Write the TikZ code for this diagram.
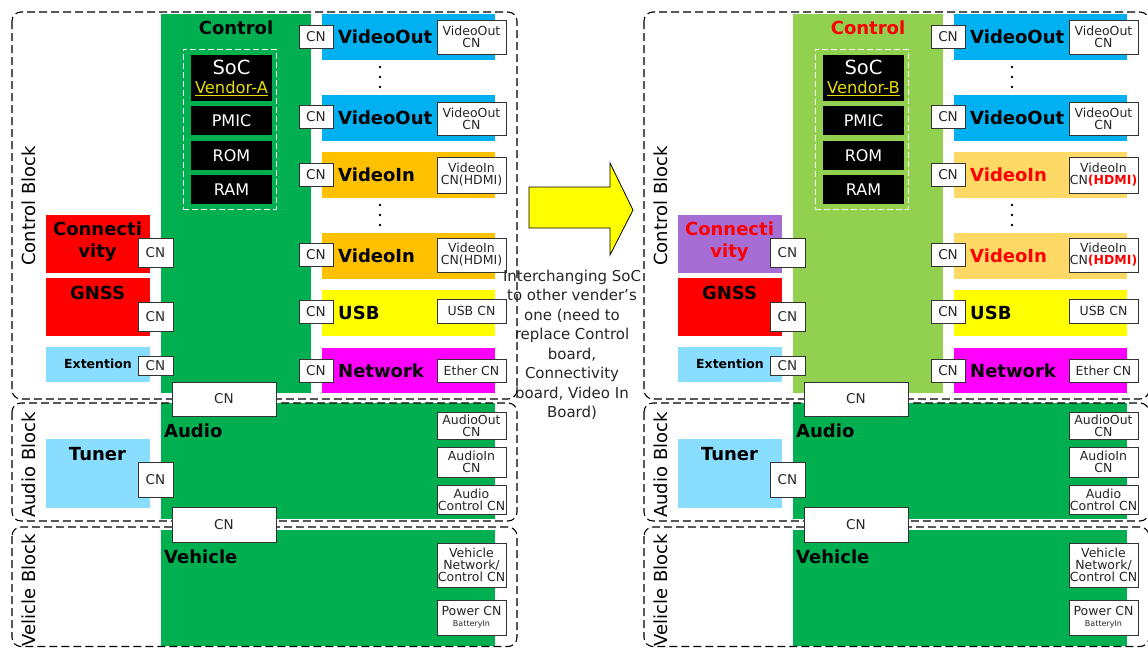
\documentclass[tikz,border=0pt]{standalone}
\usepackage{fontspec}
\setmainfont{DejaVu Sans}
\definecolor{cgreen}{RGB}{0,176,80}
\definecolor{lgreen}{RGB}{146,208,80}
\definecolor{cblue}{RGB}{0,176,240}
\definecolor{corange}{RGB}{255,192,0}
\definecolor{lorange}{RGB}{255,217,102}
\definecolor{cyellow}{RGB}{255,255,0}
\definecolor{cmag}{RGB}{255,0,255}
\definecolor{cred}{RGB}{255,0,0}
\definecolor{lblue}{RGB}{137,221,255}
\definecolor{cpurple}{RGB}{166,109,212}
\definecolor{vendcol}{RGB}{230,220,0}
\tikzset{
  rect/.style={inner sep=0pt, outer sep=0pt, draw=none},
  cn/.style={draw=black!80, fill=white, line width=0.8pt, inner sep=0pt, outer sep=0pt,
    align=center, text=black!85, font=\fontsize{13.5}{13.5}\selectfont},
  cnr/.style={cn, font=\fontsize{12.5}{12}\selectfont},
  blk/.style={draw=black, line width=1.1pt, dash pattern=on 8pt off 4pt, rounded corners=9pt},
  blabel/.style={rotate=90, font=\fontsize{18}{18}\selectfont},
  ttl/.style={font=\fontsize{18}{20}\selectfont\bfseries, inner sep=0pt},
  chip/.style={rect, fill=black, text=white, font=\fontsize{16}{16}\selectfont},
  dotm/.style={fill=black}
}
\newcommand\cnbox[7][cn]{\node[#1, minimum width=#5pt, minimum height=#6pt] (#2) at (#3,#4) {#7};}
\newcommand\drawpanel[3]{%
\begin{scope}[xshift=#2pt]
 % boards
 \node[rect, fill=pCtrl, minimum width=150pt, minimum height=379pt] (#1ctrl) at (236,203.5) {};
 \node[rect, fill=cgreen, minimum width=334pt, minimum height=116pt] (#1audio) at (328,461) {};
 \node[rect, fill=cgreen, minimum width=334pt, minimum height=116pt] (#1veh) at (328,588) {};
 \node[rect, fill=cblue, minimum width=173pt, minimum height=46pt] (#1vo1) at (408.5,37) {};
 \node[rect, fill=cblue, minimum width=173pt, minimum height=46pt] (#1vo2) at (408.5,118) {};
 \node[rect, fill=pVI, minimum width=173pt, minimum height=46pt] (#1vi1) at (408.5,175) {};
 \node[rect, fill=pVI, minimum width=173pt, minimum height=46pt] (#1vi2) at (408.5,256) {};
 \node[rect, fill=cyellow, minimum width=173pt, minimum height=46pt] (#1usb) at (408.5,313) {};
 \node[rect, fill=cmag, minimum width=173pt, minimum height=45pt] (#1net) at (408.5,370.5) {};
 \node[rect, fill=pConn, minimum width=104pt, minimum height=58pt] (#1conn) at (98,244) {};
 \node[rect, fill=cred, minimum width=104pt, minimum height=58pt] (#1gnss) at (98,307) {};
 \node[rect, fill=lblue, minimum width=104pt, minimum height=35pt] (#1ext) at (98,364.5) {};
 \node[rect, fill=lblue, minimum width=104pt, minimum height=69pt] (#1tuner) at (98,473.5) {};
 % SoC group
 \node[rect, draw=white, line width=1pt, dash pattern=on 6pt off 3pt, minimum width=93pt, minimum height=160pt] (#1socgrp) at (229.5,129) {};
 \node[chip, minimum width=81pt, minimum height=46pt] (#1soc) at (231.5,78) {};
 \node[text=white, font=\fontsize{19.5}{19.5}\selectfont, inner sep=0pt] (#1soct) at (231.5,67) {SoC};
 \node[text=vendcol, font=\fontsize{16.3}{16}\selectfont, inner sep=0pt] (#1vend) at (231.5,88) {\underline{Vendor-#3}};
 \node[chip, minimum width=81pt, minimum height=29pt] (#1pmic) at (231.5,120.5) {PMIC};
 \node[chip, minimum width=81pt, minimum height=29pt] (#1rom) at (231.5,155.5) {ROM};
 \node[chip, minimum width=81pt, minimum height=29pt] (#1ram) at (231.5,189.5) {RAM};
 % blocks
 \draw[blk] (12,12) rectangle (517,399);
 \draw[blk] (12,403) rectangle (517,521);
 \draw[blk] (12,527) rectangle (517,646.5);
 \node[blabel] (#1cb) at (29,206) {Control Block};
 \node[blabel] (#1ab) at (29,465) {Audio Block};
 \node[blabel] (#1vb) at (29,590) {Velicle Block};
 % titles
 \node[ttl, text=pCtrlT] (#1ctrlt) at (236,28) {Control};
 \node[ttl, anchor=west] (#1vo1t) at (338,37) {VideoOut};
 \node[ttl, anchor=west] (#1vo2t) at (338,118) {VideoOut};
 \node[ttl, anchor=west, text=pVIT] (#1vi1t) at (338,175) {VideoIn};
 \node[ttl, anchor=west, text=pVIT] (#1vi2t) at (338,256) {VideoIn};
 \node[ttl, anchor=west] (#1usbt) at (338,313) {USB};
 \node[ttl, anchor=west] (#1nett) at (338,370.5) {Network};
 \node[ttl, align=center, text=pConnT, font=\fontsize{18}{22}\selectfont\bfseries] (#1connt) at (97.5,242) {Connecti\\vity};
 \node[ttl] (#1gnsst) at (97.5,293) {GNSS};
 \node[ttl, font=\fontsize{12.5}{13}\selectfont\bfseries] (#1extt) at (98,364) {Extention};
 \node[ttl] (#1tunert) at (97.5,454) {Tuner};
 \node[ttl, anchor=west] (#1audiot) at (164,431) {Audio};
 \node[ttl, anchor=west] (#1veht) at (164,557) {Vehicle};
 % dots
 \foreach \yy in {67,77,87,205,215,225} {\fill[dotm] (380,\yy) circle (1.4pt);}
 % left CN
 \cnbox{#1cvo1}{316}{37}{34}{23}{CN}
 \cnbox{#1cvo2}{316}{117}{34}{23}{CN}
 \cnbox{#1cvi1}{316}{174.5}{34}{23}{CN}
 \cnbox{#1cvi2}{316}{255}{34}{23}{CN}
 \cnbox{#1cusb}{316}{311.5}{34}{23}{CN}
 \cnbox{#1cnet}{316}{370.5}{34}{23}{CN}
 % right CN
 \cnbox[cnr]{#1rvo1}{471.5}{37}{69}{34}{VideoOut\\CN}
 \cnbox[cnr]{#1rvo2}{471.5}{118.5}{69}{33}{VideoOut\\CN}
 \cnbox[cnr]{#1rvi1}{471.5}{175}{69}{36}{VideoIn\\CN\hdmi}
 \cnbox[cnr]{#1rvi2}{471.5}{255}{69}{34}{VideoIn\\CN\hdmi}
 \cnbox[cnr]{#1rusb}{471.5}{311}{69}{24}{USB CN}
 \cnbox[cnr]{#1reth}{471.5}{370.5}{69}{23}{Ether CN}
 \cnbox[cnr]{#1rao}{471.5}{425.5}{69}{27}{AudioOut\\CN}
 \cnbox[cnr]{#1rai}{471.5}{462}{69}{30}{AudioIn\\CN}
 \cnbox[cnr]{#1rac}{471.5}{499.5}{69}{29}{Audio\\Control CN}
 \cnbox[cnr]{#1rvn}{471.5}{565}{69}{44}{Vehicle\\Network/\\Control CN}
 \cnbox[cnr]{#1rpw}{471.5}{617.5}{69}{35}{Power CN\\[-1pt]{\fontsize{8}{8}\selectfont BatteryIn}}
 % module CN
 \cnbox{#1mconn}{155.5}{252.5}{35}{29}{CN}
 \cnbox{#1mgnss}{155.5}{316.5}{35}{29}{CN}
 \cnbox{#1mext}{155.5}{365.5}{35}{19}{CN}
 \cnbox{#1mtun}{155.5}{479.5}{35}{35}{CN}
 \cnbox{#1bca}{224}{399}{104}{34}{CN}
 \cnbox{#1bav}{224}{524.5}{104}{35}{CN}
\end{scope}}
\begin{document}
\begin{tikzpicture}[x=1pt,y=-1pt]
\useasboundingbox (0,0) rectangle (1148,648);
\fill[white] (0,0) rectangle (1148,648);
\colorlet{pCtrl}{cgreen}\colorlet{pCtrlT}{black}\colorlet{pConn}{cred}\colorlet{pConnT}{black}\colorlet{pVI}{corange}\colorlet{pVIT}{black}
\def\hdmi{(HDMI)}
\drawpanel{L}{0}{A}
\colorlet{pCtrl}{lgreen}\colorlet{pCtrlT}{cred}\colorlet{pConn}{cpurple}\colorlet{pConnT}{cred}\colorlet{pVI}{lorange}\colorlet{pVIT}{cred}
\def\hdmi{{\color{cred}\bfseries(HDMI)}}
\drawpanel{R}{632}{B}
% arrow
\draw[fill=cyellow, draw=black, line width=0.8pt] (529,187) -- (610,187) -- (610,163) -- (633,210) -- (610,255) -- (610,228) -- (529,228) -- cycle;
\node[align=center, font=\fontsize{15}{19.5}\selectfont, text=black!85, inner sep=0pt] (note) at (572,345)
 {Interchanging SoC\\to other vender's\\one (need to\\replace Control\\board,\\Connectivity\\board, Video In\\Board)};
\end{tikzpicture}
\end{document}
